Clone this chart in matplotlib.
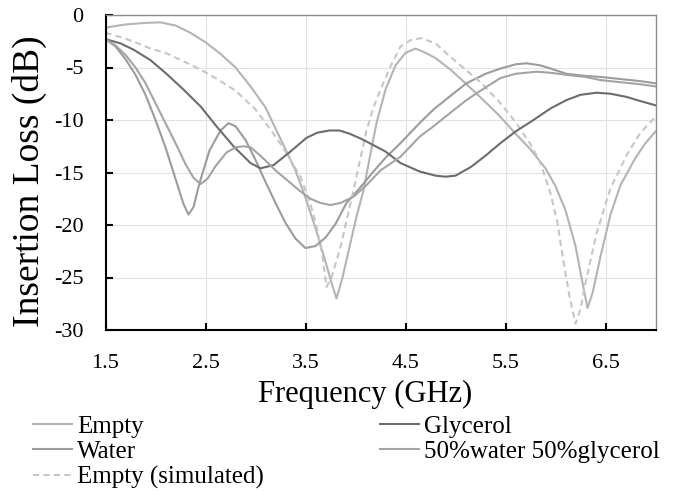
import numpy as np
import matplotlib
matplotlib.use("Agg")
import matplotlib.pyplot as plt

# donnees (frequence en GHz, perte en dB)
f_empty = [1.5, 1.7, 1.9, 2.05, 2.2, 2.35, 2.5, 2.65, 2.8, 2.95, 3.1, 3.25, 3.4, 3.5, 3.6, 3.7, 3.76, 3.81,
           3.87, 3.94, 4.01, 4.08, 4.15, 4.21, 4.3, 4.4, 4.5, 4.6, 4.7, 4.8, 4.95, 5.1, 5.3, 5.45, 5.6, 5.75,
           5.9, 6.0, 6.1, 6.2, 6.27, 6.32, 6.37, 6.45, 6.55, 6.65, 6.8, 6.9, 7.0]
il_empty = [-1.2, -0.9, -0.75, -0.7, -1.0, -1.7, -2.6, -3.7, -5.0, -6.8, -8.8, -11.8, -14.8, -17.4, -20.3, -23.5,
            -25.5, -27.0, -25.0, -22.1, -19.2, -16.7, -13.2, -10.3, -7.1, -4.8, -3.6, -3.2, -3.6, -4.1, -5.2, -6.5,
            -8.3, -9.7, -11.3, -12.8, -14.6, -16.3, -18.6, -22.0, -25.5, -27.9, -26.5, -23.0, -19.0, -16.2, -13.6,
            -12.2, -11.1]

f_glyc = [1.5, 1.65, 1.78, 1.95, 2.11, 2.28, 2.45, 2.61, 2.78, 2.95, 3.05, 3.18, 3.35, 3.51, 3.62, 3.74, 3.84,
          3.94, 4.06, 4.18, 4.3, 4.45, 4.64, 4.8, 4.9, 5.0, 5.15, 5.3, 5.45, 5.6, 5.78, 5.95, 6.11, 6.25, 6.41,
          6.55, 6.71, 6.85, 7.0]
il_glyc = [-2.3, -2.7, -3.3, -4.3, -5.6, -7.1, -8.7, -10.6, -12.5, -14.1, -14.6, -14.3, -13.0, -11.7, -11.2,
           -11.0, -11.0, -11.3, -11.8, -12.4, -13.0, -14.1, -14.9, -15.3, -15.4, -15.3, -14.5, -13.4, -12.2, -11.1,
           -10.0, -8.9, -8.1, -7.6, -7.4, -7.5, -7.8, -8.2, -8.6]

f_water = [1.5, 1.6, 1.7, 1.8, 1.9, 2.0, 2.1, 2.2, 2.28, 2.33, 2.38, 2.44, 2.54, 2.65, 2.73, 2.8, 2.9, 3.0, 3.1,
           3.2, 3.3, 3.4, 3.5, 3.6, 3.7, 3.8, 3.91, 4.05, 4.18, 4.3, 4.45, 4.64, 4.78, 4.95, 5.11, 5.3, 5.45, 5.6,
           5.71, 5.85, 5.95, 6.11, 6.3, 6.45, 6.65, 6.85, 7.0]
il_water = [-2.3, -3.0, -4.2, -5.7, -7.6, -10.0, -12.6, -15.6, -18.0, -19.0, -18.3, -16.0, -12.9, -11.0, -10.3,
            -10.6, -11.9, -13.8, -15.9, -17.9, -19.8, -21.3, -22.2, -22.0, -21.2, -19.9, -17.9, -16.4, -14.9,
            -13.6, -12.2, -10.3, -9.0, -7.7, -6.5, -5.6, -5.1, -4.7, -4.6, -4.8, -5.1, -5.6, -5.8, -5.9, -6.1,
            -6.3, -6.5]

f_mix = [1.5, 1.6, 1.7, 1.8, 1.9, 2.0, 2.1, 2.2, 2.3, 2.38, 2.45, 2.52, 2.6, 2.71, 2.8, 2.88, 2.95, 3.05, 3.2,
         3.35, 3.45, 3.55, 3.65, 3.75, 3.85, 3.98, 4.1, 4.25, 4.45, 4.64, 4.78, 4.95, 5.11, 5.3, 5.45, 5.6, 5.81,
         5.95, 6.11, 6.3, 6.45, 6.65, 6.85, 7.0]
il_mix = [-2.3, -2.9, -3.8, -5.0, -6.5, -8.4, -10.3, -12.2, -14.2, -15.5, -16.1, -15.6, -14.4, -13.1, -12.6,
          -12.5, -12.6, -13.4, -14.8, -16.0, -16.8, -17.5, -17.9, -18.1, -17.9, -17.3, -16.3, -14.8, -13.5, -11.6,
          -10.6, -9.3, -8.1, -6.9, -6.0, -5.6, -5.4, -5.5, -5.7, -5.9, -6.2, -6.4, -6.6, -6.8]

f_sim = [1.5, 1.65, 1.8, 1.95, 2.1, 2.3, 2.45, 2.6, 2.8, 3.0, 3.18, 3.3, 3.45, 3.55, 3.62, 3.67, 3.71, 3.76, 3.85,
         3.92, 3.98, 4.05, 4.11, 4.18, 4.25, 4.35, 4.45, 4.55, 4.66, 4.8, 4.95, 5.1, 5.25, 5.45, 5.6, 5.75, 5.85,
         5.95, 6.02, 6.08, 6.14, 6.2, 6.25, 6.3, 6.41, 6.55, 6.72, 6.85, 7.0]
il_sim = [-1.7, -2.1, -2.6, -3.2, -3.6, -4.5, -5.2, -6.0, -7.2, -9.0, -11.3, -13.0, -15.4, -18.0, -20.5, -23.0,
          -25.9, -25.0, -22.1, -19.2, -16.7, -13.6, -11.0, -8.8, -7.1, -4.9, -3.0, -2.4, -2.2, -2.7, -4.0, -5.2,
          -6.4, -8.4, -10.2, -12.3, -14.1, -17.0, -19.8, -23.5, -26.8, -29.4, -28.0, -25.5, -20.8, -16.5, -13.2,
          -11.2, -9.7]

xticks = [1.5, 2.5, 3.5, 4.5, 5.5, 6.5]
yticks = [0, -5, -10, -15, -20, -25, -30]


def main():
    plt.rcParams["font.family"] = ["Liberation Serif", "DejaVu Serif"]
    fig = plt.figure(figsize=(6.76, 4.91), dpi=100)
    ax = fig.add_axes([105.5 / 676, 1 - 330 / 491, 550 / 676, 315 / 491])

    lw = 1.5
    l1, = ax.plot(f_empty, il_empty, color="#b4b4b4", lw=lw, label="Empty")
    l2, = ax.plot(f_water, il_water, color="#9c9c9c", lw=lw, label="Water")
    l3, = ax.plot(f_sim, il_sim, color="#c6c6c6", lw=lw, ls=(0, (3, 2)), label="Empty (simulated)")
    l4, = ax.plot(f_glyc, il_glyc, color="#6c6c6c", lw=lw, label="Glycerol")
    l5, = ax.plot(f_mix, il_mix, color="#a4a4a4", lw=lw, label="50%water 50%glycerol")

    ax.set_xlim(1.5, 7.0)
    ax.set_ylim(-30, 0)
    ax.set_xticks(xticks)
    ax.set_yticks(yticks)
    ax.set_xticklabels(["%.1f" % t for t in xticks])
    ax.set_yticklabels(["%d" % t for t in yticks])
    ax.grid(True, color="#e2e2e2", lw=0.8)
    ax.set_axisbelow(True)

    for s in ["left", "bottom"]:
        ax.spines[s].set_linewidth(1.5)
        ax.spines[s].set_color("black")
    for s in ["top", "right"]:
        ax.spines[s].set_linewidth(1.0)
        ax.spines[s].set_color("#8a8a8a")

    ax.tick_params(axis="x", direction="in", length=5, width=1.5, labelsize=16, pad=17)
    ax.tick_params(axis="y", direction="in", length=5, width=1.5, labelsize=16, pad=16)

    ax.set_xlabel("Frequency (GHz)", fontsize=22)
    ax.set_ylabel("Insertion Loss (dB)", fontsize=27)
    ax.xaxis.set_label_coords((365.5 - 105.5) / 550, -(394 - 330) / 315, transform=ax.transAxes)
    ax.yaxis.set_label_coords(-(105.5 - 29) / 550, (330 - 181.5) / 315)
    ax.xaxis.label.set_va("center")
    ax.yaxis.label.set_va("center")

    fig.legend(handles=[l1, l2, l3, l4, l5], ncol=2, loc="upper left",
               bbox_to_anchor=(33 / 676, 1 - 415 / 491), frameon=False, fontsize=18,
               handlelength=1.56, handletextpad=0.2, columnspacing=4.64, labelspacing=0.12,
               borderpad=0, borderaxespad=0)

    fig.savefig("out.png", dpi=100)


if __name__ == "__main__":
    main()
